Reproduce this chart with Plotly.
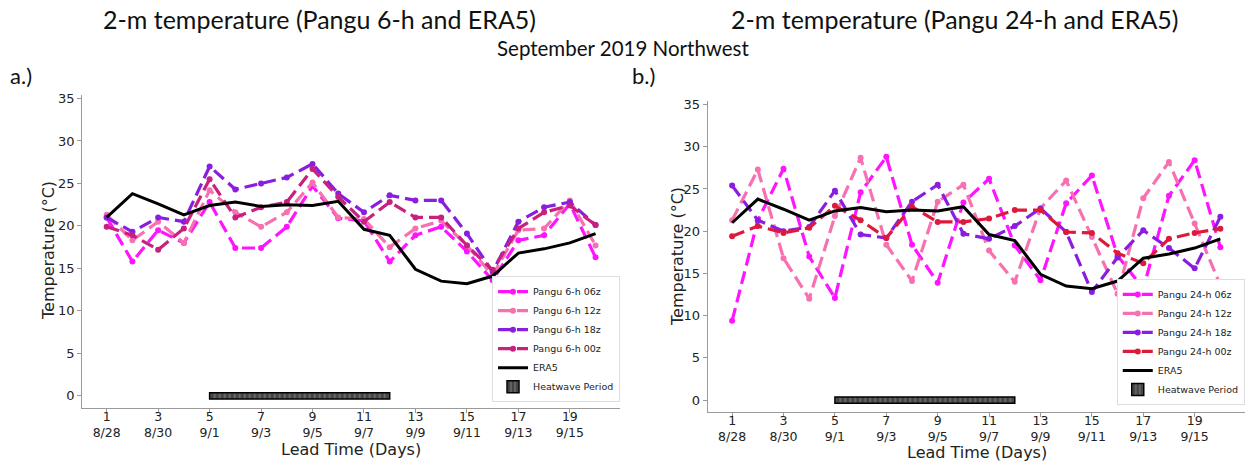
import plotly.graph_objects as go

# ---------------- data ----------------
days = list(range(1, 21))
tick_days = [1, 3, 5, 7, 9, 11, 13, 15, 17, 19]
tick_dates = ["8/28", "8/30", "9/1", "9/3", "9/5", "9/7", "9/9", "9/11", "9/13", "9/15"]

era5 = [21.0, 23.8, 22.6, 21.3, 22.4, 22.8, 22.3, 22.5, 22.4, 22.9,
        19.6, 18.9, 14.9, 13.5, 13.2, 14.1, 16.8, 17.3, 18.0, 19.1]

p6_06z = [21.0, 15.8, 19.5, 18.0, 22.8, 17.4, 17.4, 19.9, 24.7, 20.9,
          20.6, 15.8, 18.9, 19.9, 17.0, 13.6, 18.3, 18.9, 22.6, 16.3]
p6_12z = [21.3, 18.3, 20.5, 18.0, 24.2, 21.6, 19.9, 21.6, 25.1, 21.0,
          20.8, 17.5, 19.7, 20.6, 17.7, 14.2, 19.5, 19.7, 23.0, 17.7]
p6_18z = [21.0, 19.3, 21.0, 20.5, 27.0, 24.3, 25.0, 25.7, 27.3, 23.8,
          21.6, 23.6, 23.0, 23.0, 19.1, 14.6, 20.5, 22.2, 22.8, 20.1]
p6_00z = [19.9, 18.9, 17.2, 19.7, 25.5, 21.0, 22.2, 22.8, 26.7, 23.4,
          20.5, 22.8, 21.0, 21.0, 17.7, 14.8, 19.7, 21.6, 22.4, 20.1]

p24_06z = [9.4, 21.3, 27.4, 17.0, 12.1, 24.6, 28.8, 18.4, 13.9, 23.4,
           26.2, 18.3, 14.2, 23.3, 26.6, 17.1, 13.2, 24.2, 28.4, 18.1]
p24_12z = [21.3, 27.3, 16.8, 12.0, 21.8, 28.7, 18.4, 14.1, 23.5, 25.5,
           17.7, 14.0, 22.7, 26.0, 19.3, 12.6, 23.9, 28.2, 20.9, 13.6]
p24_18z = [25.4, 21.3, 20.0, 20.5, 24.8, 19.6, 19.2, 23.5, 25.5, 19.7,
           19.1, 20.6, 22.7, 19.9, 12.8, 16.9, 20.1, 18.0, 15.6, 21.7]
p24_00z = [19.4, 20.6, 19.8, 20.4, 23.0, 21.3, 19.2, 22.9, 21.1, 21.1,
           21.5, 22.5, 22.5, 19.9, 19.8, 17.4, 16.2, 19.1, 19.8, 20.3]

heatwave_start = 5
heatwave_end = 12

# ---------------- styling ----------------
C06 = "#ff14ff"
C12 = "#f771b0"
C18 = "#8a1ee0"
C00_6 = "#c8207e"
C00_24 = "#de1a3c"

fig = go.Figure()

tick_text = [f"{d}<br>{s}" for d, s in zip(tick_days, tick_dates)]

def add_pangu(y, name, color, xa, ya, leg):
    fig.add_trace(go.Scatter(
        x=days, y=y, name=name, mode="lines+markers",
        line=dict(color=color, width=3.2, dash="13px,6px"),
        marker=dict(color=color, size=6),
        xaxis=xa, yaxis=ya, legend=leg))

def add_common(xa, ya, leg):
    fig.add_trace(go.Scatter(
        x=days, y=era5, name="ERA5", mode="lines",
        line=dict(color="black", width=3),
        xaxis=xa, yaxis=ya, legend=leg))
    fig.add_trace(go.Bar(
        y=[0], x=[heatwave_end - heatwave_start], base=[heatwave_start],
        orientation="h", width=0.75, name="Heatwave Period",
        marker=dict(color="#444444", line=dict(color="black", width=1.5),
                    pattern=dict(shape="|", fgcolor="#9a9a9a", size=5, solidity=0.35)),
        xaxis=xa, yaxis=ya, legend=leg))

add_pangu(p6_06z, "Pangu 6-h 06z", C06, "x", "y", "legend")
add_pangu(p6_12z, "Pangu 6-h 12z", C12, "x", "y", "legend")
add_pangu(p6_18z, "Pangu 6-h 18z", C18, "x", "y", "legend")
add_pangu(p6_00z, "Pangu 6-h 00z", C00_6, "x", "y", "legend")
add_common("x", "y", "legend")

add_pangu(p24_06z, "Pangu 24-h 06z", C06, "x2", "y2", "legend2")
add_pangu(p24_12z, "Pangu 24-h 12z", C12, "x2", "y2", "legend2")
add_pangu(p24_18z, "Pangu 24-h 18z", C18, "x2", "y2", "legend2")
add_pangu(p24_00z, "Pangu 24-h 00z", C00_24, "x2", "y2", "legend2")
add_common("x2", "y2", "legend2")

tick_font = dict(family="DejaVu Sans", size=12.5, color="#222")

xcommon = dict(range=[0.05, 20.95], tickvals=tick_days, ticktext=tick_text,
               showline=True, linecolor="#9a9a9a", linewidth=1.2,
               ticks="outside", ticklen=4, tickcolor="#9a9a9a", ticklabelstandoff=-7,
               showgrid=False, zeroline=False, tickfont=tick_font, automargin=False)
ycommon = dict(range=[-1.4, 35.4], tickvals=[0, 5, 10, 15, 20, 25, 30, 35],
               showline=True, linecolor="#9a9a9a", linewidth=1.2,
               ticks="outside", ticklen=4, tickcolor="#9a9a9a",
               showgrid=False, zeroline=False, tickfont=dict(tick_font, size=13),
               automargin=False)

legend_common = dict(font=dict(family="DejaVu Sans", size=9.5, color="#222"),
                     bgcolor="white", bordercolor="#dddddd", borderwidth=1,
                     xanchor="right", yanchor="bottom", tracegroupgap=0,
                     itemwidth=30)

title_family = "Lato"

def ann(text, x, y, size, family=title_family, xanchor="center", angle=0, color="#111"):
    return dict(text=text, x=x / 1246, y=1 - y / 466, xref="paper", yref="paper",
                showarrow=False, xanchor=xanchor, yanchor="middle", textangle=angle,
                font=dict(family=family, size=size, color=color))

fig.update_layout(
    width=1246, height=466,
    margin=dict(l=0, r=0, t=0, b=0, autoexpand=False),
    paper_bgcolor="white", plot_bgcolor="white",
    barmode="overlay",
    xaxis=dict(domain=[0.066, 0.4976], anchor="y", **xcommon),
    yaxis=dict(domain=[0.125, 0.796], anchor="x", **ycommon),
    xaxis2=dict(domain=[0.568, 0.999], anchor="y2", **xcommon),
    yaxis2=dict(domain=[0.116, 0.783], anchor="x2", **ycommon),
    legend=dict(x=0.4976, y=0.137, **legend_common),
    legend2=dict(x=0.999, y=0.131, **legend_common),
    annotations=[
        ann("2-m temperature (Pangu 6-h and ERA5)", 320, 19, 25),
        ann("2-m temperature (Pangu 24-h and ERA5)", 955, 19, 25),
        ann("September 2019 Northwest", 623, 48, 20.5),
        ann("a.)", 8, 75, 22, xanchor="left"),
        ann("b.)", 630, 75, 22, xanchor="left"),
        ann("Lead Time (Days)", 351, 449, 16, family="DejaVu Sans", color="#222"),
        ann("Lead Time (Days)", 977, 452, 16, family="DejaVu Sans", color="#222"),
        ann("Temperature (°C)", 48, 251, 16, family="DejaVu Sans", angle=-90, color="#222"),
        ann("Temperature (°C)", 677, 257, 16, family="DejaVu Sans", angle=-90, color="#222"),
    ],
)

fig.write_html("out.html", config={"displayModeBar": False},
               post_script="document.body.style.margin='0';document.body.style.padding='0';")
